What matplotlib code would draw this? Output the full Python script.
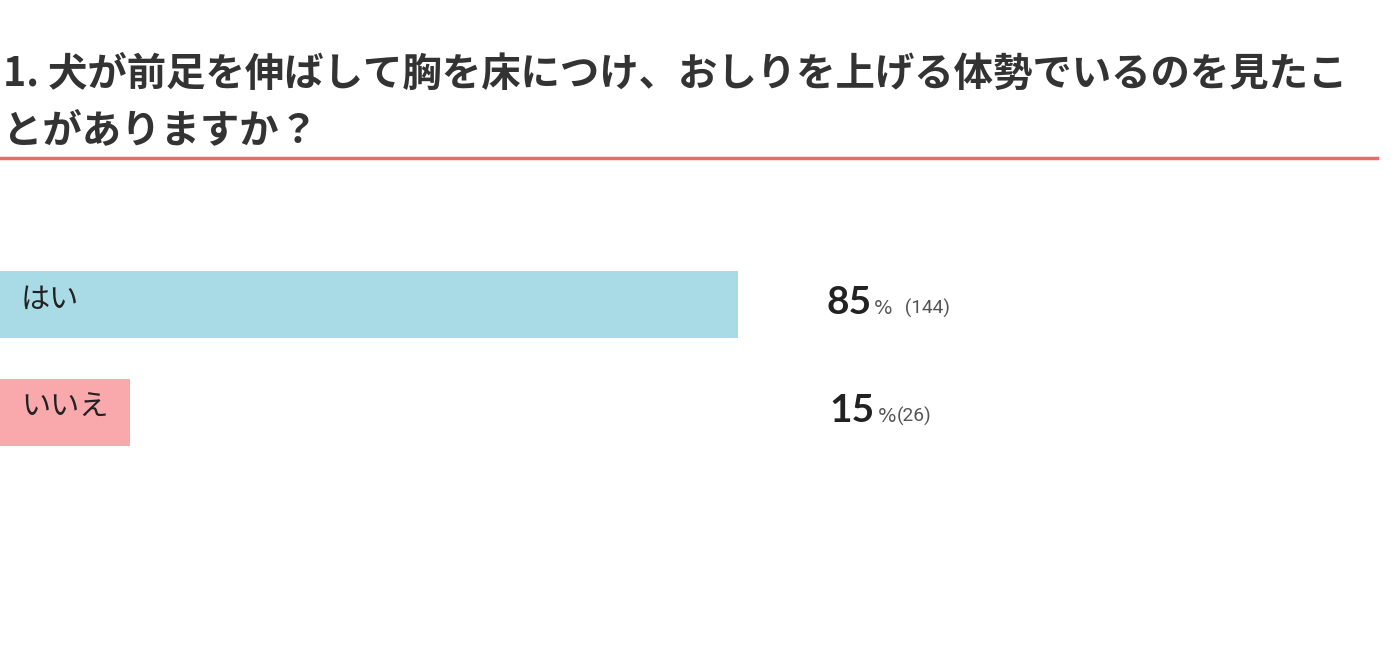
import matplotlib
matplotlib.use("Agg")
import matplotlib.pyplot as plt

plt.rcParams['font.family'] = ['Noto Sans CJK JP', 'DejaVu Sans']

# survey data
question_line1 = "1. 犬が前足を伸ばして胸を床につけ、おしりを上げる体勢でいるのを見たこ"
question_line2 = "とがありますか？"
answers = ["はい", "いいえ"]
percents = [85, 15]
counts = [144, 26]
count_labels = [" (144)", "(26)"]
bar_colors = ["#a9dbe6", "#f9a8ab"]

W, H = 1398, 654
fig = plt.figure(figsize=(W / 100, H / 100), dpi=100)
fig.patch.set_facecolor("white")

# title
fig.text(3 / W, 1 - 74 / H, question_line1, fontsize=28.4, fontweight="bold",
         color="#333333", va="center", ha="left")
fig.text(3 / W, 1 - 131 / H, question_line2, fontsize=28.4, fontweight="bold",
         color="#333333", va="center", ha="left")
fig.add_artist(plt.Line2D([0, 1377 / W], [1 - 158 / H, 1 - 158 / H],
                          color="#f0666a", lw=2.5))

# bars: axes spans 0..100% over 868 px, 108 px per row
ax = fig.add_axes([0, 1 - 466.5 / H, 868 / W, 216 / H])
y = [0, 1]
ax.barh(y, percents, height=0.62, color=bar_colors)
ax.set_xlim(0, 100)
ax.set_ylim(1.5, -0.5)
ax.axis("off")

for i, ans in enumerate(answers):
    ax.text(2.4, y[i] - 0.04, ans, fontsize=21, color="#222222",
            va="center", ha="left")

# value labels (pixel layout per row)
baselines = [314, 422]
num_right = [872, 875]
pct_left = [874, 878]
cnt_left = [900, 897]
for i in range(len(answers)):
    yy = 1 - baselines[i] / H
    fig.text(num_right[i] / W, yy, str(percents[i]), fontsize=28,
             color="#222222", ha="right", va="baseline",
             family=["Lato", "DejaVu Sans"], fontweight="bold")
    fig.text(pct_left[i] / W, yy, "%", fontsize=14, color="#555555",
             ha="left", va="baseline", family=["DejaVu Sans"])
    fig.text(cnt_left[i] / W, yy, count_labels[i], fontsize=13.8,
             color="#555555", ha="left", va="baseline",
             family=["Roboto", "DejaVu Sans"])

fig.savefig("out.png", dpi=100, facecolor="white")
